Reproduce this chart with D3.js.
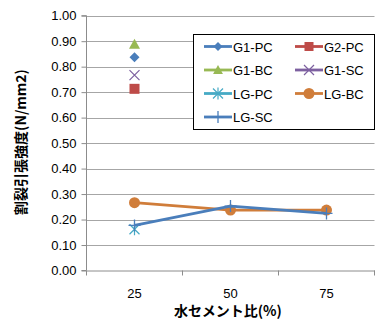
<!DOCTYPE html>
<html><head><meta charset="utf-8">
<script src="https://cdn.jsdelivr.net/npm/d3@7"></script>
<style>body{margin:0;background:#fff;}svg{display:block;font-family:"Noto Sans CJK JP","Noto Sans",sans-serif;}</style>
</head><body>
<svg id="c" width="377" height="322"></svg>
<script>
const categories = ["25","50","75"];
const yTicks = [0,0.1,0.2,0.3,0.4,0.5,0.6,0.7,0.8,0.9,1.0];
const seriesNames = ["G1-PC","G2-PC","G1-BC","G1-SC","LG-PC","LG-BC","LG-SC"];
const seriesColors = ["#4A7EBB","#BE4B48","#98B954","#7D60A0","#46AAC5","#D07D3A","#4A7EBB"];
const seriesMarkers = ["diamond","square","triangle","x","star","circle","plus"];
const g1pc = [0.837, null, null];
const g2pc = [0.713, null, null];
const g1bc = [0.888, null, null];
const g1sc = [0.767, null, null];
const lgpc = [0.162, null, null];
const lgbc = [0.266, 0.237, 0.237];
const lgsc = [0.177, 0.253, 0.224];
const seriesValues = [g1pc,g2pc,g1bc,g1sc,lgpc,lgbc,lgsc];

const svg = d3.select("#c");
const L=86.5, R=374.5, T=15.7, B=270.5;
const x = d3.scaleBand().domain(categories).range([L,R]);
const y = d3.scaleLinear().domain([0,1]).range([B,T]);

// gridlines
svg.append("g").selectAll("line").data(yTicks.slice(1)).join("line")
  .attr("x1",L).attr("x2",R).attr("y1",d=>Math.round(y(d))+0.5).attr("y2",d=>Math.round(y(d))+0.5)
  .attr("stroke","#A6A6A6").attr("stroke-width",1);

// y axis
const ya = svg.append("g").attr("transform",`translate(${L},0)`)
  .call(d3.axisLeft(y).tickValues(yTicks).tickFormat(d3.format(".2f")).tickSize(5).tickPadding(5));
ya.select(".domain").attr("stroke","#8C8C8C").attr("d",`M-5,${T}H0V${B}H-5`);
ya.selectAll(".tick line").attr("stroke","#8C8C8C");
ya.selectAll(".tick text").attr("font-size","13px").attr("fill","#000").attr("font-family","'Liberation Sans',sans-serif");

// x axis
const xa = svg.append("g").attr("transform",`translate(0,${B})`)
  .call(d3.axisBottom(x).tickSize(0).tickPadding(18));
xa.select(".domain").attr("stroke","#8C8C8C");
xa.selectAll(".tick text").attr("font-size","13px").attr("fill","#000").attr("font-family","'Liberation Sans',sans-serif");
const edges = categories.map(c=>x(c)).concat([x(categories[categories.length-1])+x.bandwidth()]);
xa.selectAll(".edge").data(edges).join("line").attr("class","edge")
  .attr("x1",d=>d).attr("x2",d=>d).attr("y1",0).attr("y2",5).attr("stroke","#8C8C8C");

// titles
svg.append("text").attr("x",228).attr("y",316).attr("text-anchor","middle")
  .attr("font-size","14px").attr("font-weight","bold").text("水セメント比(%)");
svg.append("text").attr("transform","translate(26,142) rotate(-90)").attr("text-anchor","middle")
  .attr("font-size","14px").attr("font-weight","bold").text("割裂引張強度(N/mm2)");

function marker(g, type, cx, cy, color, s){
  s = s||1;
  if(type==="diamond"){
    g.append("path").attr("d",`M${cx},${cy-5*s}L${cx+5*s},${cy}L${cx},${cy+5*s}L${cx-5*s},${cy}Z`).attr("fill",color);
  } else if(type==="square"){
    g.append("rect").attr("x",cx-5*s).attr("y",cy-5*s).attr("width",10*s).attr("height",10*s).attr("fill",color);
  } else if(type==="triangle"){
    g.append("path").attr("d",`M${cx},${cy-5.5*s}L${cx+5.5*s},${cy+4.5*s}L${cx-5.5*s},${cy+4.5*s}Z`).attr("fill",color);
  } else if(type==="x"){
    g.append("path").attr("d",`M${cx-5},${cy-5}L${cx+5},${cy+5}M${cx-5},${cy+5}L${cx+5},${cy-5}`).attr("stroke",color).attr("stroke-width",1.2).attr("fill","none");
  } else if(type==="star"){
    g.append("path").attr("d",`M${cx-5},${cy-5}L${cx+5},${cy+5}M${cx-5},${cy+5}L${cx+5},${cy-5}M${cx},${cy-6}V${cy+6}`).attr("stroke",color).attr("stroke-width",1.2).attr("fill","none");
  } else if(type==="circle"){
    g.append("circle").attr("cx",cx).attr("cy",cy).attr("r",5.5).attr("fill",color);
  } else if(type==="plus"){
    g.append("path").attr("d",`M${cx-6},${cy}H${cx+6}M${cx},${cy-6}V${cy+6}`).attr("stroke",color).attr("stroke-width",1.3).attr("fill","none");
  }
}

const line = d3.line().defined(d=>d.v!=null).x(d=>x(d.c)+x.bandwidth()/2).y(d=>y(d.v));
const plot = svg.append("g");
seriesNames.forEach((n,i)=>{
  const pts = categories.map((c,j)=>({c:c,v:seriesValues[i][j]}));
  plot.append("path").attr("d",line(pts)).attr("fill","none").attr("stroke",seriesColors[i]).attr("stroke-width",2.8).attr("stroke-linejoin","round");
  const mg = plot.append("g");
  pts.filter(p=>p.v!=null).forEach(p=>marker(mg, seriesMarkers[i], x(p.c)+x.bandwidth()/2, y(p.v), seriesColors[i]));
});

// legend
const lg = svg.append("g");
lg.append("rect").attr("x",193.5).attr("y",34.5).attr("width",181).attr("height",95).attr("fill","#fff").attr("stroke","#000").attr("stroke-width",1);
seriesNames.forEach((n,i)=>{
  const col = i%2, row = Math.floor(i/2);
  const lx = col===0 ? 204 : 295, ly = 46.5 + row*23.5;
  lg.append("line").attr("x1",lx).attr("x2",lx+28).attr("y1",ly).attr("y2",ly).attr("stroke",seriesColors[i]).attr("stroke-width",2.8);
  marker(lg, seriesMarkers[i], lx+14, ly, seriesColors[i], 0.9);
  lg.append("text").attr("x",lx+29).attr("y",ly+5).attr("font-size","13px").attr("font-family","'Liberation Sans',sans-serif").text(n);
});
</script>
</body></html>
